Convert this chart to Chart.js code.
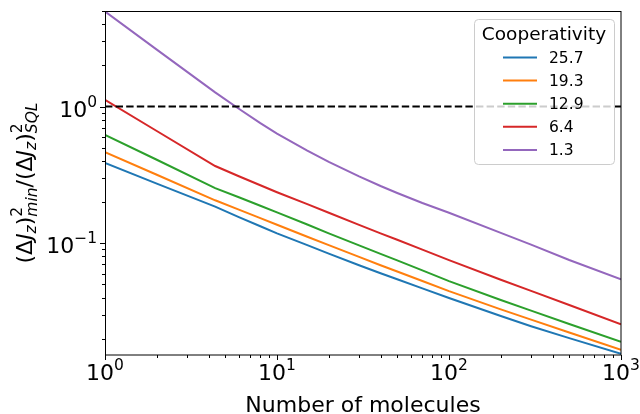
<!DOCTYPE html>
<html>
<head>
<meta charset="utf-8">
<script src="https://cdn.jsdelivr.net/npm/chart.js@4"></script>
<style>
  html, body { margin: 0; padding: 0; background: #fff; }
  #wrap { width: 640px; height: 414px; position: relative; }
</style>
</head>
<body>
<div id="wrap"><canvas id="coopChart"></canvas></div>
<script>
// number of molecules (x) and the SQL-normalised variance for each cooperativity
const molecules = [1, 2, 4.37, 6, 8, 10, 15, 20, 30, 40, 50, 70, 100, 200, 300, 500, 1000];
const cooperativity = ['25.7', '19.3', '12.9', '6.4', '1.3'];
const coop257 = [0.386, 0.273, 0.185, 0.155, 0.133, 0.118, 0.0967, 0.0838, 0.069, 0.0603, 0.0545, 0.0467, 0.0397, 0.0293, 0.0247, 0.0202, 0.0155];
const coop193 = [0.464, 0.317, 0.206, 0.176, 0.1525, 0.1365, 0.1115, 0.0967, 0.0794, 0.069, 0.0621, 0.0529, 0.0446, 0.0328, 0.0276, 0.0222, 0.0166];
const coop129 = [0.621, 0.408, 0.253, 0.217, 0.188, 0.168, 0.137, 0.118, 0.0964, 0.0835, 0.0749, 0.0632, 0.0528, 0.0384, 0.0321, 0.0256, 0.0190];
const coop64 = [1.12, 0.662, 0.367, 0.309, 0.2655, 0.236, 0.193, 0.167, 0.136, 0.118, 0.106, 0.0897, 0.0751, 0.0540, 0.0448, 0.0353, 0.0255];
const coop13 = [4.96, 2.61, 1.27, 0.964, 0.756, 0.634, 0.476, 0.394, 0.308, 0.262, 0.233, 0.197, 0.167, 0.119, 0.0977, 0.0753, 0.0543];
const sqlX = [1, 1000];
const sqlLevel = [1, 1];

const xTicks = [1, 10, 100, 1000];
const xTickExp = ['0', '1', '2', '3'];
const yTicks = [0.1, 1];
const yTickExp = ['\u22121', '0'];

const colors = ['#1f77b4', '#ff7f0e', '#2ca02c', '#d62728', '#9467bd'];
const FONT = '"DejaVu Sans", sans-serif';

const seriesValues = [coop257, coop193, coop129, coop64, coop13];
const toPoints = (xs, ys) => xs.map((x, i) => ({ x: x, y: ys[i] }));

function setFont(ctx, sz, it) {
    ctx.font = (it ? 'italic ' : '') + sz + 'px ' + FONT;
}

// draws a run of text pieces (sub/superscripts), "stack" puts the next piece at the same x
function rich(ctx, parts, x, y, align) {
    let pos = 0, hold = 0;
    const placed = [];
    for (const p of parts) {
        setFont(ctx, p.sz, p.it);
        const w = ctx.measureText(p.t).width;
        placed.push([p, pos]);
        if (p.stack) hold = Math.max(hold, w);
        else { pos += Math.max(hold, w); hold = 0; }
    }
    const x0 = align === 'center' ? x - pos / 2 : align === 'right' ? x - pos : x;
    ctx.textAlign = 'left';
    ctx.textBaseline = 'alphabetic';
    for (const [p, px] of placed) {
        setFont(ctx, p.sz, p.it);
        ctx.fillText(p.t, x0 + px, y + (p.dy || 0));
    }
}

const yTitle = [
    { t: '(', sz: 22 }, { t: '\u0394', sz: 22 }, { t: 'J', sz: 22, it: 1 }, { t: 'z', sz: 15.5, it: 1, dy: 4 },
    { t: ')', sz: 22 }, { t: '2', sz: 15.5, dy: -10, stack: 1 }, { t: 'min', sz: 15.5, it: 1, dy: 5 },
    { t: '/', sz: 22 },
    { t: '(', sz: 22 }, { t: '\u0394', sz: 22 }, { t: 'J', sz: 22, it: 1 }, { t: 'z', sz: 15.5, it: 1, dy: 4 },
    { t: ')', sz: 22 }, { t: '2', sz: 15.5, dy: -10, stack: 1 }, { t: 'SQL', sz: 15.5, it: 1, dy: 5 },
];

const axesPlugin = {
    id: 'mplAxes',
    afterDatasetsDraw(chart) {
        const ctx = chart.ctx;
        const a = chart.chartArea;
        const xs = chart.scales.x, ys = chart.scales.y;
        ctx.save();
        ctx.strokeStyle = '#000';
        ctx.fillStyle = '#000';
        ctx.lineWidth = 1;
        ctx.strokeRect(Math.round(a.left) + 0.5, Math.round(a.top) + 0.5,
            Math.round(a.right - a.left) - 0.5, Math.round(a.bottom - a.top) - 0.5);

        // x ticks
        ctx.beginPath();
        for (let d = 1; d <= 1000; d *= 10) {
            for (let m = 1; m <= 9; m++) {
                const v = d * m;
                if (v > 1000) break;
                const px = Math.round(xs.getPixelForValue(v)) + 0.5;
                const len = m === 1 ? 5 : 3;
                ctx.moveTo(px, a.bottom);
                ctx.lineTo(px, a.bottom + len);
            }
        }
        // y ticks
        for (let d = 0.01; d <= 1; d *= 10) {
            for (let m = 1; m <= 9; m++) {
                const v = d * m;
                if (v < ys.min || v > ys.max) continue;
                const py = Math.round(ys.getPixelForValue(v)) + 0.5;
                const len = m === 1 ? 5 : 3;
                ctx.moveTo(a.left, py);
                ctx.lineTo(a.left - len, py);
            }
        }
        ctx.stroke();

        // tick labels
        xTicks.forEach((v, i) => {
            rich(ctx, [{ t: '10', sz: 22 }, { t: xTickExp[i], sz: 15.5, dy: -10 }],
                xs.getPixelForValue(v), 380, 'center');
        });
        yTicks.forEach((v, i) => {
            rich(ctx, [{ t: '10', sz: 22 }, { t: yTickExp[i], sz: 15.5, dy: -10 }],
                a.left - 8, ys.getPixelForValue(v) + 10, 'right');
        });

        // axis titles
        rich(ctx, [{ t: 'Number of molecules', sz: 22 }], (a.left + a.right) / 2, 412, 'center');
        ctx.save();
        ctx.translate(32, (a.top + a.bottom) / 2);
        ctx.rotate(-Math.PI / 2);
        rich(ctx, yTitle, 0, 0, 'center');
        ctx.restore();

        // legend
        const bx = 474, by = 19, bw = 140, bh = 145;
        ctx.beginPath();
        ctx.roundRect(bx + 0.5, by + 0.5, bw, bh, 4);
        ctx.fillStyle = 'rgba(255,255,255,0.8)';
        ctx.fill();
        ctx.strokeStyle = '#cccccc';
        ctx.stroke();
        ctx.fillStyle = '#000';
        rich(ctx, [{ t: 'Cooperativity', sz: 18.5 }], bx + bw / 2, 40, 'center');
        cooperativity.forEach((lab, i) => {
            const ly = 57.5 + i * 23.1;
            ctx.strokeStyle = colors[i];
            ctx.lineWidth = 2;
            ctx.beginPath();
            ctx.moveTo(503, ly);
            ctx.lineTo(537, ly);
            ctx.stroke();
            ctx.fillStyle = '#000';
            rich(ctx, [{ t: lab, sz: 15.5 }], 549, ly + 5.5, 'left');
        });
        ctx.restore();
    }
};

const datasets = cooperativity.map((lab, i) => ({
    label: lab,
    data: toPoints(molecules, seriesValues[i]),
    borderColor: colors[i],
    borderWidth: 2,
    pointRadius: 0,
    tension: 0,
    fill: false,
    order: 5 - i,
}));
datasets.push({
    label: 'SQL',
    data: toPoints(sqlX, sqlLevel),
    borderColor: '#000',
    borderWidth: 2,
    borderDash: [7.4, 3.2],
    pointRadius: 0,
    fill: false,
    order: 0,
});

new Chart(document.getElementById('coopChart').getContext('2d'), {
    type: 'line',
    data: { datasets: datasets },
    options: {
        responsive: true,
        maintainAspectRatio: false,
        animation: false,
        layout: { padding: { left: 105, right: 19, top: 11, bottom: 59 } },
        plugins: {
            legend: { display: false },
            tooltip: { enabled: false },
        },
        scales: {
            x: { type: 'logarithmic', min: 1, max: 1000, display: false },
            y: { type: 'logarithmic', min: 0.0152, max: 5, display: false },
        },
    },
    plugins: [axesPlugin],
});
</script>
</body>
</html>
